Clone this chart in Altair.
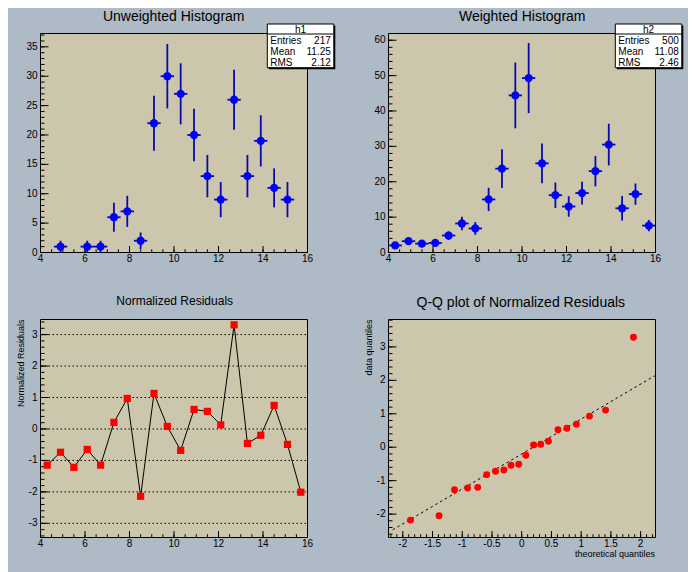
import altair as alt
import pandas as pd

FONT = "Liberation Sans"
BG = "#AEBAC6"
FRAME = "#CCC6AC"
BLUE = "#0000FF"
ERR = "#0A0AAA"
RED = "#FF0000"

# ---------------- data ----------------
bin_centers = [4.3, 4.9, 5.5, 6.1, 6.7, 7.3, 7.9, 8.5, 9.1, 9.7,
               10.3, 10.9, 11.5, 12.1, 12.7, 13.3, 13.9, 14.5, 15.1, 15.7]
h1_counts = [0, 1, 0, 1, 1, 6, 7, 2, 22, 30, 27, 20, 13, 9, 26, 13, 19, 11, 9, 0]
h1_errors = [0, 1, 0, 1, 1, 2.45, 2.65, 1.41, 4.69, 5.48, 5.2, 4.47, 3.61, 3.0,
             5.1, 3.61, 4.36, 3.32, 3.0, 0]
h2_values = [2.0, 3.2, 2.5, 2.7, 4.8, 8.2, 6.8, 15.0, 23.7, 44.4,
             49.3, 25.2, 16.2, 13.0, 16.8, 23.0, 30.5, 12.5, 16.5, 7.6]
h2_errors = [0.9, 1.0, 0.9, 1.0, 1.2, 1.9, 1.8, 3.3, 5.5, 9.3,
             9.9, 5.6, 3.6, 2.9, 3.2, 4.3, 5.9, 3.5, 3.0, 1.6]
half_bin = 0.3
residuals = [-1.15, -0.74, -1.22, -0.65, -1.15, 0.21, 0.97, -2.14, 1.13, 0.08,
             -0.68, 0.62, 0.56, 0.13, 3.31, -0.46, -0.20, 0.75, -0.49, -2.01]
qq_theoretical = [-1.87, -1.39, -1.13, -0.91, -0.74, -0.59, -0.44, -0.30, -0.18, -0.05,
                  0.07, 0.20, 0.32, 0.45, 0.61, 0.76, 0.92, 1.14, 1.41, 1.88]
qq_data = [-2.18, -2.05, -1.27, -1.22, -1.20, -0.82, -0.72, -0.68, -0.54, -0.51,
           -0.24, 0.07, 0.09, 0.18, 0.52, 0.57, 0.69, 0.93, 1.11, 3.29]
qq_line_x = [-2.17, 2.25]
qq_line_y = [-2.47, 2.15]

stat_names = ["Entries", "Mean", "RMS"]
h1_stats = ["217", "11.25", "2.12"]
h2_stats = ["500", "11.08", "2.46"]

titles = ["Unweighted Histogram", "Weighted Histogram",
          "Normalized Residuals", "Q-Q plot of Normalized Residuals"]

# ---------------- tick labels ----------------
hist_x_labels = [4, 6, 8, 10, 12, 14, 16]
h1_y_labels = [0, 5, 10, 15, 20, 25, 30, 35]
h2_y_labels = [0, 10, 20, 30, 40, 50, 60]
res_y_labels = [-3, -2, -1, 0, 1, 2, 3]
qq_x_labels = [-2, -1.5, -1, -0.5, 0, 0.5, 1, 1.5, 2]
qq_y_labels = [-2, -1, 0, 1, 2, 3]

hist_x_minor = [4 + 0.5 * i for i in range(25)]
h1_y_minor = list(range(0, 38))
h2_y_minor = list(range(0, 62, 2))
res_y_minor = [round(-3.4 + 0.2 * i, 2) for i in range(35)]
qq_x_minor = [round(-2.2 + 0.1 * i, 2) for i in range(45)]
qq_y_minor = [round(-2.6 + 0.2 * i, 2) for i in range(33)]

# ---------------- layout (pixels inside the chart) ----------------
P = {
    "h1": dict(x0=32.5, x1=299.5, y0=25.5, y1=244.5, xd=[4, 16], yd=[0, 37.27]),
    "h2": dict(x0=380.5, x1=647.5, y0=25.5, y1=244.5, xd=[4, 16], yd=[0, 61.9]),
    "res": dict(x0=32.5, x1=299.5, y0=311.5, y1=529.5, xd=[4, 16], yd=[-3.45, 3.48]),
    "qq": dict(x0=380.5, x1=647.5, y0=311.5, y1=529.5, xd=[-2.24, 2.25], yd=[-2.70, 3.82]),
}

LABEL_SIZE = 10


def xs(p):
    return alt.Scale(domain=p["xd"], range=[p["x0"], p["x1"]], nice=False, zero=False)


def ys(p):
    return alt.Scale(domain=p["yd"], range=[p["y1"], p["y0"]], nice=False, zero=False)


one = pd.DataFrame({"k": [0]})


def fmt(v):
    return ("%g" % v)


def frame(p):
    return alt.Chart(one).mark_rect(fill=FRAME, stroke="black", strokeWidth=1).encode(
        x=alt.value(p["x0"]), x2=alt.value(p["x1"]),
        y=alt.value(p["y0"]), y2=alt.value(p["y1"]))


def yticks(p, vals, length):
    vals = [v for v in vals if p["yd"][0] <= v <= p["yd"][1]]
    df = pd.DataFrame({"v": vals})
    return alt.Chart(df).mark_rule(color="black", strokeWidth=1).encode(
        y=alt.Y("v:Q", scale=ys(p), axis=None),
        x=alt.value(p["x0"]), x2=alt.value(p["x0"] + length))


def xticks(p, vals, length):
    vals = [v for v in vals if p["xd"][0] <= v <= p["xd"][1]]
    df = pd.DataFrame({"v": vals})
    return alt.Chart(df).mark_rule(color="black", strokeWidth=1).encode(
        x=alt.X("v:Q", scale=xs(p), axis=None),
        y=alt.value(p["y1"]), y2=alt.value(p["y1"] - length))


def ylabels(p, vals, dx=3):
    df = pd.DataFrame({"v": vals, "t": [fmt(v) for v in vals]})
    return alt.Chart(df).mark_text(align="right", baseline="middle", font=FONT,
                                   fontSize=LABEL_SIZE, color="black").encode(
        y=alt.Y("v:Q", scale=ys(p), axis=None), x=alt.value(p["x0"] - dx), text="t:N")


def xlabels(p, vals):
    df = pd.DataFrame({"v": vals, "t": [fmt(v) for v in vals]})
    return alt.Chart(df).mark_text(align="center", baseline="middle", font=FONT,
                                   fontSize=LABEL_SIZE, color="black").encode(
        x=alt.X("v:Q", scale=xs(p), axis=None), y=alt.value(p["y1"] + 6.5), text="t:N")


def axes(p, xmaj, xmin, ymaj, ymin, xlen=6.5, ylen=8.0):
    return [xticks(p, xmin, xlen / 2), xticks(p, xmaj, xlen),
            yticks(p, ymin, ylen / 2), yticks(p, ymaj, ylen),
            xlabels(p, xmaj), ylabels(p, ymaj)]


def hist_layers(p, values, errors, skip_empty):
    df = pd.DataFrame({"x": bin_centers, "y": values, "e": errors})
    if skip_empty:
        df = df[df["y"] > 0]
    df = df.assign(lo=df["y"] - df["e"], hi=df["y"] + df["e"],
                   xl=df["x"] - half_bin, xr=df["x"] + half_bin)
    vbar = alt.Chart(df).mark_rule(color=ERR, strokeWidth=1.8).encode(
        x=alt.X("x:Q", scale=xs(p), axis=None),
        y=alt.Y("lo:Q", scale=ys(p), axis=None), y2="hi:Q")
    hbar = alt.Chart(df).mark_rule(color=ERR, strokeWidth=1.8).encode(
        x=alt.X("xl:Q", scale=xs(p), axis=None), x2="xr:Q",
        y=alt.Y("y:Q", scale=ys(p), axis=None))
    pts = alt.Chart(df).mark_circle(size=68, color=BLUE, opacity=1).encode(
        x=alt.X("x:Q", scale=xs(p), axis=None),
        y=alt.Y("y:Q", scale=ys(p), axis=None))
    return [vbar, hbar, pts]


def stats_box(x0, names, vals, header):
    x1 = x0 + 66.5
    y0, y1, yh = 16.0, 59.7, 26.0
    shadow = alt.Chart(one).mark_rect(fill="black").encode(
        x=alt.value(x0 + 1.5), x2=alt.value(x1 + 1.5),
        y=alt.value(y0 + 1.5), y2=alt.value(y1 + 1.5))
    box = alt.Chart(one).mark_rect(fill="white", stroke="black", strokeWidth=1).encode(
        x=alt.value(x0), x2=alt.value(x1), y=alt.value(y0), y2=alt.value(y1))
    sep = alt.Chart(one).mark_rule(color="black", strokeWidth=1).encode(
        x=alt.value(x0), x2=alt.value(x1), y=alt.value(yh))
    head = alt.Chart(pd.DataFrame({"t": [header]})).mark_text(
        align="center", baseline="middle", font=FONT, fontSize=10).encode(
        x=alt.value((x0 + x1) / 2), y=alt.value(21.5), text="t:N")
    df = pd.DataFrame({"name": names, "val": vals})
    rowscale = alt.Scale(type="point", domain=names, range=[33, 54.5], padding=0)
    left = alt.Chart(df).mark_text(align="left", baseline="middle", font=FONT, fontSize=10).encode(
        y=alt.Y("name:N", scale=rowscale, axis=None), x=alt.value(x0 + 3), text="name:N")
    right = alt.Chart(df).mark_text(align="right", baseline="middle", font=FONT, fontSize=10).encode(
        y=alt.Y("name:N", scale=rowscale, axis=None), x=alt.value(x1 - 3), text="val:N")
    return [shadow, box, sep, head, left, right]


def title_text(t, x, y, size):
    return alt.Chart(pd.DataFrame({"t": [t]})).mark_text(
        align="center", baseline="alphabetic", font=FONT, fontSize=size, color="black").encode(
        x=alt.value(x), y=alt.value(y), text="t:N")


def rot_text(t, x, y):
    return alt.Chart(pd.DataFrame({"t": [t]})).mark_text(
        align="right", baseline="middle", angle=270, font=FONT, fontSize=9, color="black").encode(
        x=alt.value(x), y=alt.value(y), text="t:N")


layers = []
# frames
for k in ["h1", "h2", "res", "qq"]:
    layers.append(frame(P[k]))

# residual grid
pr = P["res"]
grid = alt.Chart(pd.DataFrame({"v": res_y_labels})).mark_rule(
    color="black", strokeWidth=1, strokeDash=[1.5, 2.5]).encode(
    y=alt.Y("v:Q", scale=ys(pr), axis=None), x=alt.value(pr["x0"]), x2=alt.value(pr["x1"]))
layers.append(grid)

# axes
layers += axes(P["h1"], hist_x_labels, hist_x_minor, h1_y_labels, h1_y_minor)
layers += axes(P["h2"], hist_x_labels, hist_x_minor, h2_y_labels, h2_y_minor)
layers += axes(P["res"], hist_x_labels, hist_x_minor, res_y_labels, res_y_minor)
layers += axes(P["qq"], qq_x_labels, qq_x_minor, qq_y_labels, qq_y_minor)

# histograms
layers += hist_layers(P["h1"], h1_counts, h1_errors, True)
layers += hist_layers(P["h2"], h2_values, h2_errors, False)

# residuals
res_df = pd.DataFrame({"x": bin_centers, "r": residuals})
layers.append(alt.Chart(res_df).mark_line(color="black", strokeWidth=1).encode(
    x=alt.X("x:Q", scale=xs(pr), axis=None), y=alt.Y("r:Q", scale=ys(pr), axis=None)))
layers.append(alt.Chart(res_df).mark_square(size=52, color=RED, opacity=1).encode(
    x=alt.X("x:Q", scale=xs(pr), axis=None), y=alt.Y("r:Q", scale=ys(pr), axis=None)))

# Q-Q
pq = P["qq"]
line_df = pd.DataFrame({"x": qq_line_x, "y": qq_line_y})
layers.append(alt.Chart(line_df).mark_line(color="black", strokeWidth=1, strokeDash=[2.5, 3]).encode(
    x=alt.X("x:Q", scale=xs(pq), axis=None), y=alt.Y("y:Q", scale=ys(pq), axis=None)))
qq_df = pd.DataFrame({"x": qq_theoretical, "y": qq_data})
layers.append(alt.Chart(qq_df).mark_circle(size=48, color=RED, opacity=1).encode(
    x=alt.X("x:Q", scale=xs(pq), axis=None), y=alt.Y("y:Q", scale=ys(pq), axis=None)))

# stats boxes
layers += stats_box(259.3, stat_names, h1_stats, "h1")
layers += stats_box(607.3, stat_names, h2_stats, "h2")

# titles
layers.append(title_text(titles[0], 165.7, 12.5, 14))
layers.append(title_text(titles[1], 514.2, 12.5, 14))
layers.append(title_text(titles[2], 166.7, 296.8, 12))
layers.append(title_text(titles[3], 512.8, 298.5, 14))

# axis titles
layers.append(rot_text("Normalized Residuals", 12.7, 311.5))
layers.append(rot_text("data quantiles", 360.7, 311.5))
layers.append(alt.Chart(pd.DataFrame({"t": ["theoretical quantiles"]})).mark_text(
    align="right", baseline="middle", font=FONT, fontSize=9, color="black").encode(
    x=alt.value(647), y=alt.value(545.7), text="t:N"))

chart = alt.layer(*layers).resolve_scale(x="independent", y="independent").properties(
    width=680, height=564, autosize=alt.AutoSizeParams(type="none"), padding=0,
    background=BG).configure_view(stroke=None)

chart.save("out.html", embed_options={"renderer": "svg", "actions": False})
